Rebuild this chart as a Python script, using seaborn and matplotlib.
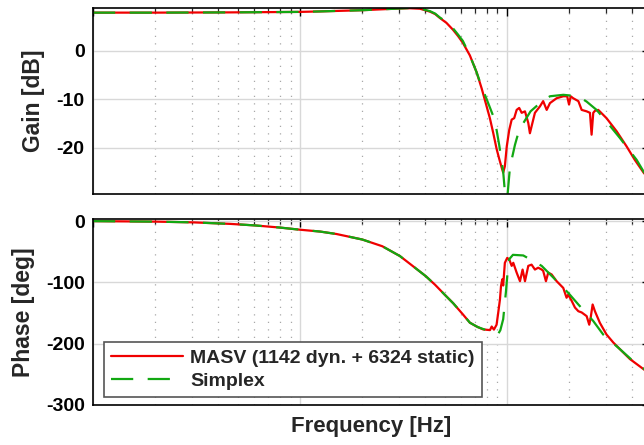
import numpy as np
import pandas as pd
import matplotlib
matplotlib.use("Agg")
import matplotlib.pyplot as plt
from matplotlib.ticker import LogLocator, NullFormatter, FixedLocator
import seaborn as sns

# ---------------- data ----------------
masv_gain_freq = [1.0, 2.0, 4.6, 10, 12.5, 20, 30.4, 34, 38, 42.5, 45, 47.4, 51, 54.8, 58, 61.2,
                  66.2, 71.4, 75.5, 79.8, 82.8, 85.9, 89.1, 91.8, 94.2, 95.9, 97.7, 99.8, 102.6,
                  105.4, 108.4, 111.4, 114.6, 117.8, 122.2, 126.8, 129.1, 131.5, 136.5, 144.2,
                  149.6, 155.6, 161.4, 173.8, 187.1, 195.4, 199.5, 203.2, 208.9, 221.3, 229.6,
                  242.7, 251.8, 256.4, 261.2, 266.1, 276.1, 302.7, 338.8, 378.4, 415, 459, 491]
masv_gain_db = [7.8, 7.8, 7.85, 7.95, 8.05, 8.3, 8.65, 8.7, 8.6, 8.0, 7.5, 6.7, 5.7, 4.3, 3.0, 1.6,
                -1.0, -4.5, -7.8, -11.5, -14.0, -17.0, -20.2, -22.3, -24.0, -25.1, -23.8, -19.7,
                -16.3, -14.2, -13.9, -12.2, -11.8, -12.8, -12.5, -14.9, -17.0, -15.6, -12.8,
                -11.5, -10.4, -12.2, -10.8, -9.8, -9.4, -9.4, -11.1, -9.4, -9.8, -10.4, -12.2,
                -12.5, -12.8, -17.3, -12.8, -12.4, -12.2, -13.9, -16.6, -19.7, -22.5, -25.2, -26.5]

simplex_gain_freq = [1.0, 2.0, 4.6, 10, 12.5, 20, 30.4, 34, 38, 42.5, 45, 47.4, 51, 54.8, 58,
                     61.2, 66.2, 71.4, 75.5, 79.8, 85.9, 89.1, 91.8, 95.9, 97.7, 99.0, 100.5,
                     103.4, 109.3, 114.6, 130, 147.1, 161.4, 187.1, 221.3, 242.7, 271, 302.7,
                     351.6, 423.6, 459, 491]
simplex_gain_db = [7.8, 7.8, 7.85, 7.95, 8.05, 8.3, 8.65, 8.75, 8.65, 8.1, 7.6, 6.8, 5.9, 4.6,
                   3.3, 2.0, -1.0, -4.5, -7.5, -10.0, -13.5, -16.3, -19.5, -24.9, -29.0, -34.0,
                   -30.0, -24.0, -19.4, -16.3, -12.5, -10.5, -9.4, -9.1, -9.4, -10.5, -12.2,
                   -14.6, -18.0, -22.5, -25.0, -26.6]

masv_phase_freq = [1.0, 2.0, 3.04, 4.6, 6.06, 8, 10, 12.5, 15, 20, 25, 30.4, 35, 40.6, 45, 50.7,
                   55, 61.2, 66.2, 71.4, 76.7, 82.8, 84.4, 86.5, 89.1, 90.7, 92.5, 93.6, 94.9,
                   95.9, 97.7, 100.3, 102.6, 105.4, 107.3, 111.4, 115.6, 119, 122.2, 126.8,
                   131.5, 136.5, 141.6, 147.1, 149.6, 154.3, 158.3, 164.4, 173.8, 187.1, 194.1,
                   197.7, 205.4, 213.1, 221.3, 229.6, 242.7, 249.8, 253.7, 259.4, 266.1, 281.2,
                   302.7, 326.3, 351.6, 392.6, 459, 491]
masv_phase_deg = [0, -0.8, -2, -4.5, -7, -10.5, -14, -17, -21, -30, -41, -57, -73, -90, -104,
                  -122, -134, -152, -165.7, -172, -176.7, -177.8, -172, -177, -169, -150, -128,
                  -106, -95, -105, -68, -60, -62.6, -73, -68, -84, -98, -79, -98, -73,
                  -71, -79, -76, -79, -81, -98, -84, -87, -98, -109, -125,
                  -120, -130, -141, -147, -149, -155, -169, -158, -136, -147, -166,
                  -185, -198, -209, -225, -242, -250]

simplex_phase_freq = [1.0, 2.0, 3.04, 4.6, 6.06, 8, 10, 12.5, 15, 20, 25, 30.4, 35, 40.6, 45,
                      50.7, 55, 61.2, 66.2, 72.4, 82.8, 90.7, 92.9, 95.9, 98.9, 100.6, 102.6,
                      106.9, 119.9, 147.1, 167.4, 197.7, 221.3, 261.2, 291.7, 351.6, 406, 459,
                      491]
simplex_phase_deg = [0, -0.8, -2, -4.5, -7, -10.5, -14, -17, -21, -30, -41, -57, -73, -90, -104,
                     -122, -134, -152, -165.7, -173, -180, -184, -178, -160, -115, -85, -62,
                     -55, -56, -73, -92, -117, -136, -163, -185, -209, -228, -241,
                     -249]

series_labels = ["MASV (1142 dyn. + 6324 static)", "Simplex"]
gain_ticks = [-20, -10, 0]
phase_ticks = [-300, -200, -100, 0]

# ---------------- style ----------------
sns.set_theme(style="white")
plt.rcParams["font.family"] = ["Liberation Sans", "DejaVu Sans"]
plt.rcParams["font.weight"] = "bold"
plt.rcParams["axes.unicode_minus"] = False

RED = "#f00000"
GREEN = "#12a812"
DASH = (0, (10, 6.5))

fig = plt.figure(figsize=(6.44, 4.45), dpi=100)
ax1 = fig.add_axes([0.1444, 0.5640, 0.8649, 0.418])
ax2 = fig.add_axes([0.1444, 0.0899, 0.8649, 0.418])

def style_axes(ax, yticks, ylim):
    ax.set_xscale("log")
    ax.set_xlim(1.0, 491)
    ax.set_ylim(*ylim)
    ax.xaxis.set_major_locator(LogLocator(base=10, numticks=10))
    ax.xaxis.set_minor_locator(LogLocator(base=10, subs=np.arange(2, 10), numticks=50))
    ax.xaxis.set_major_formatter(NullFormatter())
    ax.xaxis.set_minor_formatter(NullFormatter())
    ax.yaxis.set_major_locator(FixedLocator(yticks))
    ax.set_axisbelow(True)
    ax.grid(which="major", color="#d8d8d8", lw=1.0, ls="-")
    ax.grid(which="minor", axis="x", color="#a8a8a8", lw=0.9, ls=(0, (1, 5)))
    ax.tick_params(which="major", direction="in", length=6, width=1.0, top=True, right=True,
                   labelsize=14, pad=6, colors="black")
    ax.tick_params(which="minor", direction="in", length=3.5, width=0.9, top=True, right=True)
    for lab in ax.get_yticklabels():
        lab.set_fontweight("bold")
    for s in ax.spines.values():
        s.set_color("black")
        s.set_linewidth(1.2)

df_mg = pd.DataFrame({"freq": masv_gain_freq, "val": masv_gain_db})
df_sg = pd.DataFrame({"freq": simplex_gain_freq, "val": simplex_gain_db})
df_mp = pd.DataFrame({"freq": masv_phase_freq, "val": masv_phase_deg})
df_sp = pd.DataFrame({"freq": simplex_phase_freq, "val": simplex_phase_deg})

sns.lineplot(data=df_mg, x="freq", y="val", ax=ax1, color=RED, lw=1.6,
             estimator=None, sort=False, errorbar=None, label=series_labels[0], legend=False)
sns.lineplot(data=df_sg, x="freq", y="val", ax=ax1, color=GREEN, lw=1.6, linestyle=DASH,
             estimator=None, sort=False, errorbar=None, label=series_labels[1], legend=False)
sns.lineplot(data=df_mp, x="freq", y="val", ax=ax2, color=RED, lw=1.6,
             estimator=None, sort=False, errorbar=None, label=series_labels[0], legend=False)
sns.lineplot(data=df_sp, x="freq", y="val", ax=ax2, color=GREEN, lw=1.6, linestyle=DASH,
             estimator=None, sort=False, errorbar=None, label=series_labels[1], legend=False)

style_axes(ax1, gain_ticks, (-29.5, 8.75))
style_axes(ax2, phase_ticks, (-300, 3.5))
ax1.set_xlabel("")
ax1.set_ylabel("Gain [dB]", fontsize=16.5, fontweight="bold", labelpad=8)
ax2.set_ylabel("Phase [deg]", fontsize=16.5, fontweight="bold", labelpad=8)
ax2.set_xlabel("Frequency [Hz]", fontsize=16, fontweight="bold", labelpad=2)

leg = ax2.legend(handles=ax2.get_lines()[:2], labels=series_labels, loc="lower left",
                 bbox_to_anchor=(0.0197, 0.043), borderaxespad=0,
                 prop={"weight": "bold", "size": 14}, frameon=True, fancybox=False,
                 handlelength=3.7, handletextpad=0.4, borderpad=0.35, labelspacing=0.3)
leg.get_frame().set_edgecolor("#555555")
leg.get_frame().set_linewidth(1.2)
leg.get_frame().set_facecolor("white")
leg.get_frame().set_alpha(1.0)

fig.savefig("out.png", dpi=100)
